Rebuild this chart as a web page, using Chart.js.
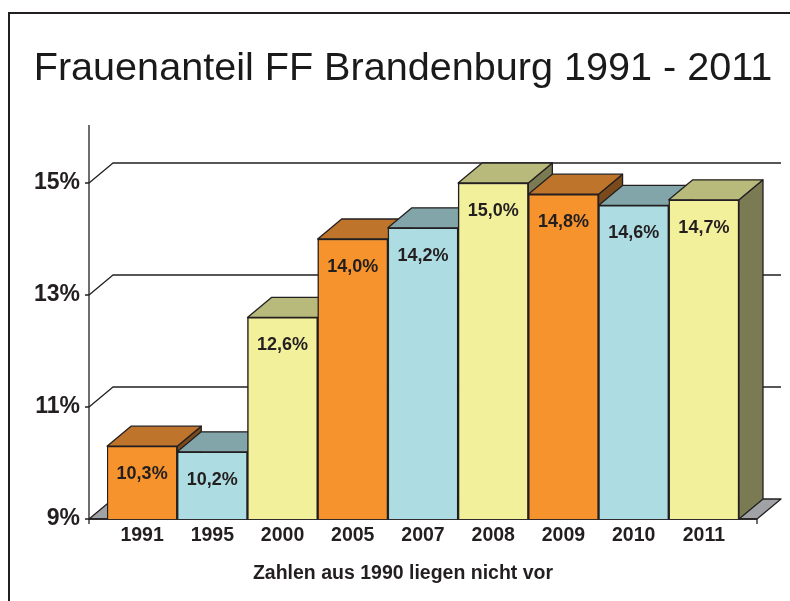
<!DOCTYPE html>
<html>
<head>
<meta charset="utf-8">
<script src="https://cdn.jsdelivr.net/npm/chart.js@4.4.1/dist/chart.umd.min.js"></script>
<style>
    html, body { margin: 0; padding: 0; background: #fff; }
</style>
</head>
<body>
<canvas id="chartFrauen" width="790" height="601"></canvas>
<script>
const jahre = ['1991', '1995', '2000', '2005', '2007', '2008', '2009', '2010', '2011'];
const anteile = [10.3, 10.2, 12.6, 14.0, 14.2, 15.0, 14.8, 14.6, 14.7];
const yTicks = [9, 11, 13, 15];
const titel = 'Frauenanteil FF Brandenburg 1991 - 2011';
const fussnote = 'Zahlen aus 1990 liegen nicht vor';

// orange / hellblau / gelb, wiederholt sich
const frontFarben = ['#F7932D', '#ADDDE2', '#F3F09B'];
const deckFarben = ['#BF742C', '#81A5A8', '#B7BA7B'];
const seitenFarben = ['#7B4A1C', '#5C7C7F', '#7A7B53'];

const TIEFE_X = 24;
const TIEFE_Y = 20;
const RAND = 18;
const LINIE = '#231F20';
const SCHRIFT = "'Liberation Sans', Arial, sans-serif";

const fmt = (v) => v.toFixed(1).replace('.', ',') + '%';

const poly = (ctx, pts, fill) => {
    ctx.beginPath();
    ctx.moveTo(pts[0][0], pts[0][1]);
    pts.slice(1).forEach(p => ctx.lineTo(p[0], p[1]));
    ctx.closePath();
    ctx.fillStyle = fill;
    ctx.fill();
    ctx.stroke();
};

const dreiD = {
    id: 'dreiD',
    beforeDatasetsDraw(chart) {
        const { ctx, chartArea: a, scales: { y } } = chart;
        const y0 = y.getPixelForValue(y.min);
        const links = a.left - RAND;
        const rechts = a.right + RAND;

        ctx.save();
        ctx.strokeStyle = LINIE;
        ctx.lineWidth = 1.3;
        ctx.lineJoin = 'round';

        // Boden
        poly(ctx, [[links, y0], [rechts, y0], [rechts + TIEFE_X, y0 - TIEFE_Y], [links + TIEFE_X, y0 - TIEFE_Y]], '#A0A2A6');

        // Rueckwand-Linien
        ctx.beginPath();
        yTicks.filter(v => v > y.min).forEach(v => {
            const py = y.getPixelForValue(v);
            ctx.moveTo(links, py);
            ctx.lineTo(links + TIEFE_X, py - TIEFE_Y);
            ctx.lineTo(rechts + TIEFE_X, py - TIEFE_Y);
        });
        ctx.stroke();

        // Achsen
        ctx.beginPath();
        ctx.moveTo(links, a.top - 2);
        ctx.lineTo(links, y0);
        ctx.lineTo(rechts, y0);
        yTicks.forEach(v => {
            const py = y.getPixelForValue(v);
            ctx.moveTo(links - 4, py);
            ctx.lineTo(links, py);
        });
        ctx.moveTo(links, y0);
        ctx.lineTo(links, y0 + 5);
        ctx.moveTo(rechts, y0);
        ctx.lineTo(rechts, y0 + 5);
        ctx.stroke();

        // Seiten und Deckflaechen der Saeulen
        const bars = chart.getDatasetMeta(0).data.map(b => b.getProps(['x', 'y', 'width'], true));
        bars.forEach((b, i) => {
            const r = b.x + b.width / 2;
            poly(ctx, [[r, b.y], [r + TIEFE_X, b.y - TIEFE_Y], [r + TIEFE_X, y0 - TIEFE_Y], [r, y0]], seitenFarben[i % 3]);
        });
        bars.forEach((b, i) => {
            const l = b.x - b.width / 2;
            const r = b.x + b.width / 2;
            poly(ctx, [[l, b.y], [r, b.y], [r + TIEFE_X, b.y - TIEFE_Y], [l + TIEFE_X, b.y - TIEFE_Y]], deckFarben[i % 3]);
        });
        ctx.restore();
    },
    afterDatasetsDraw(chart) {
        const { ctx } = chart;
        ctx.save();
        ctx.font = 'bold 18px ' + SCHRIFT;
        ctx.fillStyle = LINIE;
        ctx.textAlign = 'center';
        ctx.textBaseline = 'middle';
        chart.getDatasetMeta(0).data.forEach((b, i) => {
            ctx.fillText(fmt(anteile[i]), b.x, b.y + 28);
        });
        ctx.restore();
    },
    afterDraw(chart) {
        const { ctx } = chart;
        ctx.save();
        ctx.strokeStyle = LINIE;
        ctx.lineWidth = 2;
        ctx.beginPath();
        ctx.moveTo(9, 601);
        ctx.lineTo(9, 13);
        ctx.lineTo(790, 13);
        ctx.stroke();
        ctx.restore();
    }
};

const chartFrauen = new Chart(document.getElementById('chartFrauen'), {
    type: 'bar',
    data: {
        labels: jahre,
        datasets: [{
            data: anteile,
            backgroundColor: anteile.map((_, i) => frontFarben[i % 3]),
            borderColor: LINIE,
            borderWidth: 1.5,
            borderSkipped: false,
            categoryPercentage: 1,
            barPercentage: 1
        }]
    },
    options: {
        responsive: false,
        animation: false,
        layout: { padding: { left: 16, right: 0, top: 0, bottom: 0 } },
        plugins: {
            legend: { display: false },
            tooltip: { enabled: false },
            title: {
                display: true,
                text: titel,
                color: '#1a1a1a',
                font: { family: SCHRIFT, size: 39.6, weight: 'normal', lineHeight: 1.2 },
                padding: { top: 45, bottom: 34.5 }
            },
            subtitle: {
                display: true,
                position: 'bottom',
                text: fussnote,
                color: LINIE,
                font: { family: SCHRIFT, size: 19.5, weight: 'bold', lineHeight: 1.2 },
                padding: { top: 0, bottom: 16 }
            }
        },
        scales: {
            x: {
                grid: { display: false },
                border: { display: false },
                ticks: {
                    color: LINIE,
                    padding: -3,
                    font: { family: SCHRIFT, size: 19.5, weight: 'bold' }
                },
                afterFit(scale) { scale.height = 42.6; }
            },
            y: {
                min: 9,
                max: 16,
                grid: { display: false },
                border: { display: false },
                ticks: {
                    color: LINIE,
                    padding: 19,
                    font: { family: SCHRIFT, size: 23, weight: 'bold' },
                    callback: (v) => v + '%'
                },
                afterBuildTicks(scale) { scale.ticks = yTicks.map(v => ({ value: v })); },
                afterFit(scale) { scale.width = 91; }
            },
            yRechts: {
                position: 'right',
                grid: { display: false },
                border: { display: false },
                ticks: { display: false },
                afterFit(scale) { scale.width = 51; }
            }
        }
    },
    plugins: [dreiD]
});
</script>
</body>
</html>
